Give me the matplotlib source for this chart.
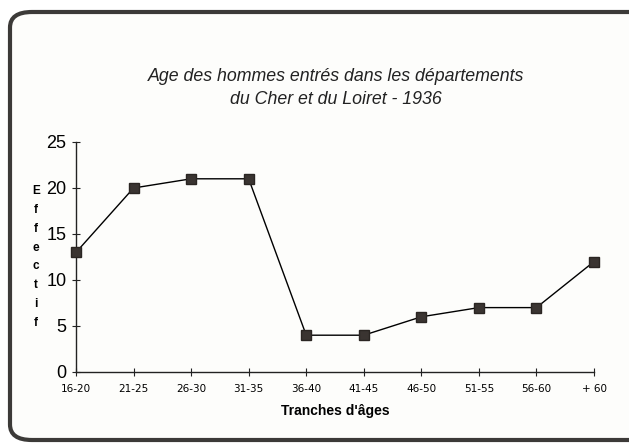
import matplotlib
matplotlib.use("Agg")
import matplotlib.pyplot as plt
from matplotlib.patches import FancyBboxPatch

categories = ["16-20", "21-25", "26-30", "31-35", "36-40",
              "41-45", "46-50", "51-55", "56-60", "+ 60"]
effectif = [13, 20, 21, 21, 4, 4, 6, 7, 7, 12]
yticks = [0, 5, 10, 15, 20, 25]

title = "Age des hommes entrés dans les départements\ndu Cher et du Loiret - 1936"
xlabel = "Tranches d'âges"
ylabel = "Effectif"

plt.rcParams['font.family'] = ['Liberation Sans', 'DejaVu Sans']

fig = plt.figure(figsize=(6.29, 4.43), dpi=100)
fig.patch.set_facecolor("white")

# scanned card border (rounded, cut off on the right)
W, H = 629, 443
card = FancyBboxPatch((10 / W, 3 / H), 660 / W, 428 / H,
                      boxstyle="round,pad=0,rounding_size=0.035",
                      transform=fig.transFigure, facecolor="#fdfdfb",
                      edgecolor="#3c3a38", linewidth=3, zorder=-5)
fig.patches.append(card)

ax = fig.add_axes([76 / W, 1 - 372 / H, (594 - 76) / W, (372 - 142) / H])
ax.set_facecolor("none")
ax.set_zorder(2)

x = list(range(len(categories)))
ax.plot(x, effectif, color="black", linewidth=1.0,
        marker="s", markersize=7.5, markerfacecolor="#3a3431",
        markeredgecolor="#2a2522", zorder=3, clip_on=False)

ax.set_xlim(0, len(categories) - 1)
ax.set_ylim(0, 25)
ax.set_xticks(x)
ax.set_xticklabels(categories, family=['Liberation Sans Narrow', 'DejaVu Sans'],
                   fontsize=7.5)
ax.set_yticks(yticks)
ax.set_yticklabels([str(v) for v in yticks], fontsize=13)
ax.tick_params(axis="both", direction="inout", length=6, width=0.8, color="#222222")
ax.tick_params(axis="x", pad=6)
ax.tick_params(axis="y", pad=4)

for s in ["top", "right"]:
    ax.spines[s].set_visible(False)
for s in ["left", "bottom"]:
    ax.spines[s].set_linewidth(1.0)
    ax.spines[s].set_color("#222222")

ax.set_xlabel(xlabel, fontsize=10, fontweight="bold", labelpad=7)
fig.text(36 / W, 1 - 257 / H, "\n".join(ylabel), fontsize=8.5, fontweight="bold",
         ha="center", va="center", linespacing=1.75, zorder=3)

fig.text(336 / W, 1 - 88 / H, title, fontsize=12.8, style="italic",
         ha="center", va="center", linespacing=1.4, color="#222222", zorder=3)

fig.savefig("out.png", dpi=100)
